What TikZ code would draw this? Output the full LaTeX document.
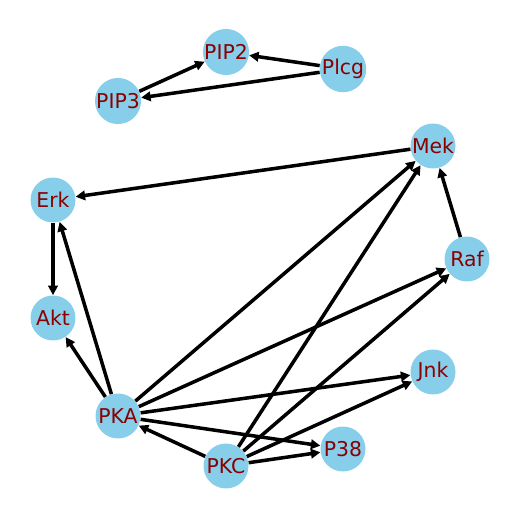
\documentclass[tikz,border=0pt]{standalone}
\usepackage{fontspec}
\setmainfont{DejaVu Sans}
\usepackage{xcolor}
\usepackage{tikz}
\usetikzlibrary{arrows.meta}

\definecolor{skyblue}{HTML}{87CEEB}
\definecolor{darkred}{HTML}{8B0000}

\begin{document}
\begin{tikzpicture}[x=0.02cm,y=-0.02cm,
   prot/.style={circle,fill=skyblue,minimum size=0.9cm,inner sep=0pt,
     text=darkred,font=\fontsize{11.6}{13}\selectfont},
   act/.style={-{Triangle[length=1.9mm,width=1.9mm]},line width=2pt}]
  \useasboundingbox (0,0) rectangle (519,519);
  % proteins on the circle
  \node[prot] (pip2) at (226,52) {PIP2};
  \node[prot] (plcg) at (343,69) {Plcg};
  \node[prot] (pip3) at (118,101) {PIP3};
  \node[prot] (mek) at (433,146) {Mek};
  \node[prot] (erk) at (53,200) {Erk};
  \node[prot] (raf) at (467,259) {Raf};
  \node[prot] (akt) at (53,318) {Akt};
  \node[prot] (jnk) at (433,372) {Jnk};
  \node[prot] (pka) at (118,416) {PKA};
  \node[prot] (p38) at (343,449) {P38};
  \node[prot] (pkc) at (226,466) {PKC};
  % signalling edges
  \draw[act] (plcg) -- (pip2);
  \draw[act] (plcg) -- (pip3);
  \draw[act] (pip3) -- (pip2);
  \draw[act] (mek) -- (erk);
  \draw[act] (raf) -- (mek);
  \draw[act] (erk) -- (akt);
  \draw[act] (pka) -- (erk);
  \draw[act] (pka) -- (akt);
  \draw[act] (pka) -- (mek);
  \draw[act] (pka) -- (raf);
  \draw[act] (pka) -- (jnk);
  \draw[act] (pka) -- (p38);
  \draw[act] (pkc) -- (mek);
  \draw[act] (pkc) -- (raf);
  \draw[act] (pkc) -- (jnk);
  \draw[act] (pkc) -- (p38);
  \draw[act] (pkc) -- (pka);
\end{tikzpicture}
\end{document}
